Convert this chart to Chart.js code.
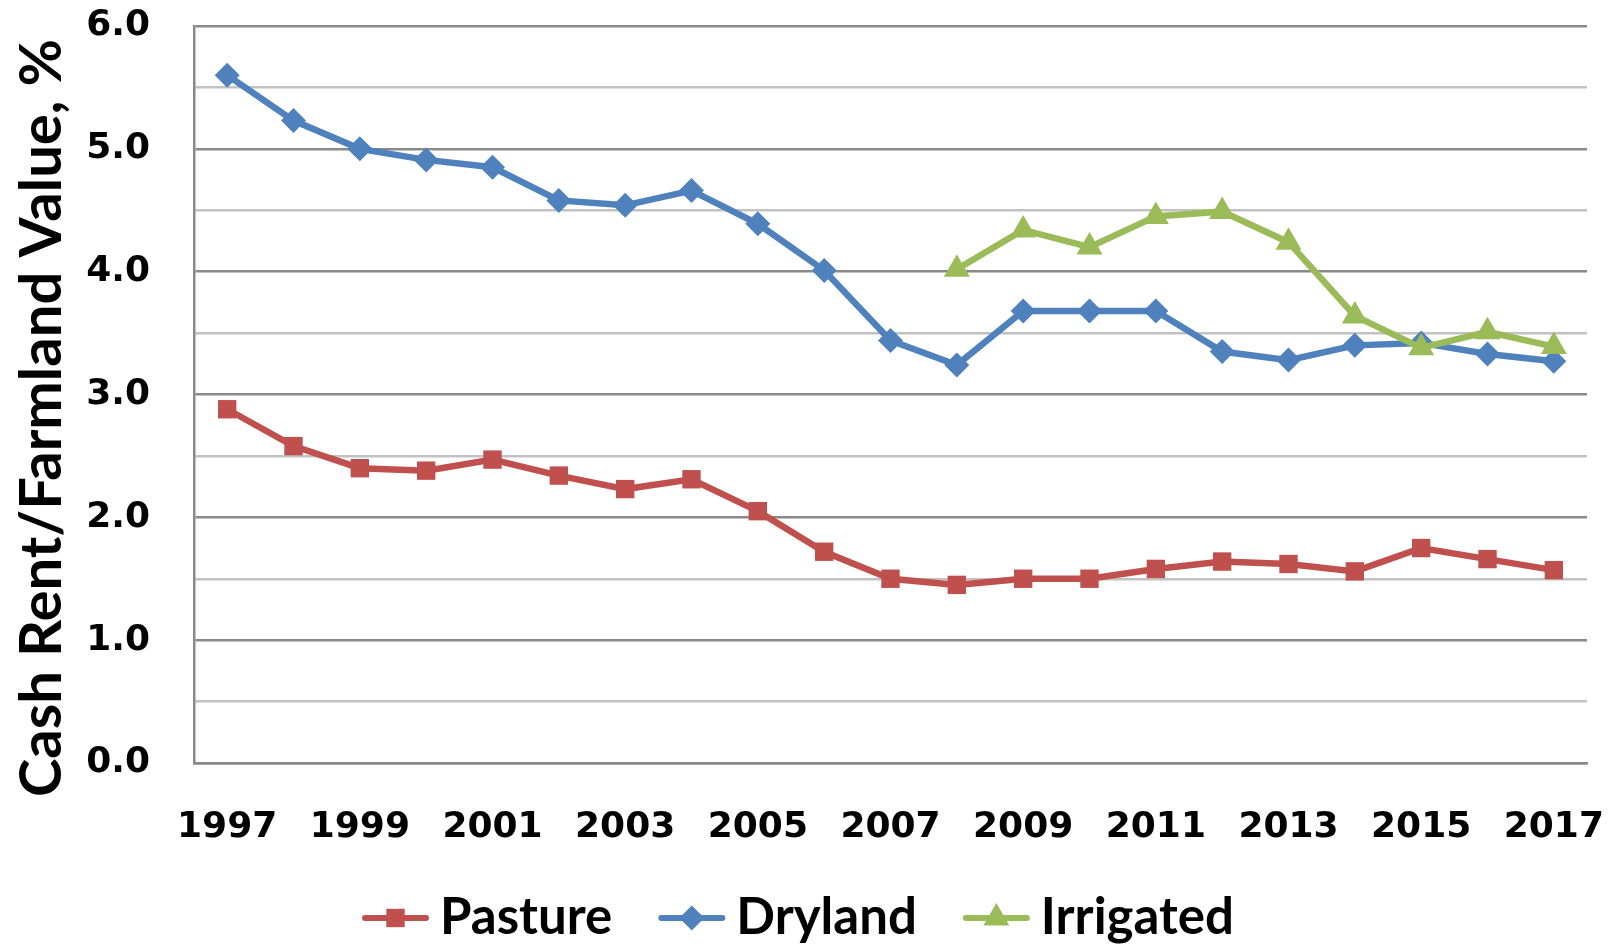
<!DOCTYPE html>
<html>
<head>
<meta charset="utf-8">
<title>Cash Rent / Farmland Value</title>
<script src="https://cdn.jsdelivr.net/npm/chart.js@4.4.1/dist/chart.umd.min.js"></script>
<style>
  html, body { margin: 0; padding: 0; background: #fff; }
  #wrap { width: 1619px; height: 945px; position: relative; }
</style>
</head>
<body>
<div id="wrap"><canvas id="chartRent"></canvas></div>
<script>
'use strict';
// ---------- dane ----------
const YEARS = ['1997', '1998', '1999', '2000', '2001', '2002', '2003', '2004', '2005', '2006', '2007',
               '2008', '2009', '2010', '2011', '2012', '2013', '2014', '2015', '2016', '2017'];
const PASTURE = [2.88, 2.58, 2.40, 2.38, 2.47, 2.34, 2.23, 2.31, 2.05, 1.72, 1.50,
                 1.45, 1.50, 1.50, 1.58, 1.64, 1.62, 1.56, 1.75, 1.66, 1.57];
const DRYLAND = [5.60, 5.23, 5.00, 4.91, 4.85, 4.58, 4.54, 4.66, 4.39, 4.01, 3.44,
                 3.24, 3.68, 3.68, 3.68, 3.35, 3.28, 3.40, 3.42, 3.33, 3.27];
const IRRIGATED = [null, null, null, null, null, null, null, null, null, null, null,
                   4.02, 4.34, 4.20, 4.45, 4.49, 4.24, 3.64, 3.38, 3.51, 3.39];
const SERIES_NAMES = ['Pasture', 'Dryland', 'Irrigated'];
const Y_TITLE = 'Cash Rent/Farmland Value, %';
const Y_MIN = 0, Y_MAX = 6, Y_STEP = 0.5;

// ---------- wygląd ----------
const COL = { pasture: '#C0504D', dryland: '#4F81BD', irrigated: '#9BBB59' };
const GRID_MAJOR = '#898989', GRID_MINOR = '#c2c2c2';
const TICK_FONT = { family: '"DejaVu Sans", Verdana, sans-serif', weight: 'bold', size: 36 };
const LABEL_FAMILY = 'Lato, "Open Sans", sans-serif';

const AREA_LEFT = 194, AREA_BOTTOM = 763, CANVAS_H = 945;

// tytuł osi Y (obrócony) — rysowany osobno, żeby wyśrodkować jak w oryginale
const yTitle = {
  id: 'yTitle',
  afterDraw(chart) {
    const ctx = chart.ctx;
    ctx.save();
    ctx.translate(42, 418);
    ctx.rotate(-Math.PI / 2);
    ctx.font = `bold 58px ${LABEL_FAMILY}`;
    ctx.fillStyle = '#000';
    ctx.textAlign = 'center';
    ctx.textBaseline = 'middle';
    ctx.fillText(Y_TITLE, 0, 0);
    ctx.restore();
  },
};

// legenda pod osią: linia + znacznik + podpis
const lineLegend = {
  id: 'lineLegend',
  afterDraw(chart) {
    const ctx = chart.ctx;
    const sets = chart.data.datasets.slice().sort((a, b) => a.legendIndex - b.legendIndex);
    const iconW = 67, iconGap = 11, itemGap = 46, cx = 798, yLine = 918, yText = 934;
    ctx.save();
    ctx.font = `bold 51px ${LABEL_FAMILY}`;
    const widths = sets.map(d => iconW + iconGap + ctx.measureText(d.label).width);
    const total = widths.reduce((a, b) => a + b, 0) + itemGap * (sets.length - 1);
    let x = cx - total / 2;
    sets.forEach((d, i) => {
      ctx.strokeStyle = d.borderColor;
      ctx.lineWidth = 6;
      ctx.lineCap = 'round';
      ctx.beginPath(); ctx.moveTo(x + 3, yLine); ctx.lineTo(x + iconW - 3, yLine); ctx.stroke();
      ctx.fillStyle = d.borderColor;
      Chart.helpers.drawPoint(ctx, { pointStyle: d.pointStyle, radius: d.pointRadius, borderWidth: 0, rotation: 0 },
        x + iconW / 2, yLine);
      ctx.fillStyle = '#000';
      ctx.textAlign = 'left';
      ctx.textBaseline = 'alphabetic';
      ctx.fillText(d.label, x + iconW + iconGap, yText);
      x += widths[i] + itemGap;
    });
    ctx.restore();
  },
};

function series(label, data, color, style, radius, order, legendIndex) {
  return {
    label, data, order, legendIndex,
    borderColor: color, backgroundColor: color,
    borderWidth: 6.5, tension: 0, spanGaps: false,
    pointStyle: style, pointRadius: radius, pointHoverRadius: radius,
    pointBackgroundColor: color, pointBorderColor: color, pointBorderWidth: 0,
  };
}

new Chart(document.getElementById('chartRent'), {
  type: 'line',
  data: {
    labels: YEARS,
    datasets: [
      series(SERIES_NAMES[0], PASTURE, COL.pasture, 'rect', 13, 2, 0),
      series(SERIES_NAMES[1], DRYLAND, COL.dryland, 'rectRot', 12.5, 1, 1),
      series(SERIES_NAMES[2], IRRIGATED, COL.irrigated, 'triangle', 15, 0, 2),
    ],
  },
  options: {
    responsive: true, maintainAspectRatio: false, animation: false, devicePixelRatio: 1,
    layout: { padding: { top: 26, right: 32, left: 0, bottom: 0 } },
    plugins: { legend: { display: false }, tooltip: { enabled: false } },
    scales: {
      x: {
        offset: true,
        grid: { display: true, drawOnChartArea: false, drawTicks: true, tickLength: 41, tickColor: 'rgba(0,0,0,0)' },
        border: { display: true, color: GRID_MAJOR, width: 2.5 },
        ticks: {
          autoSkip: false, maxRotation: 0, padding: 2, color: '#000', font: TICK_FONT,
          callback: (v, i) => (i % 2 === 0 ? YEARS[i] : ''),
        },
        afterFit: s => { s.height = CANVAS_H - AREA_BOTTOM; },
      },
      y: {
        min: Y_MIN, max: Y_MAX,
        grid: {
          drawTicks: true, tickLength: 40, tickColor: 'rgba(0,0,0,0)', lineWidth: 2.5,
          color: c => (c.tick && Number.isInteger(c.tick.value) ? GRID_MAJOR : GRID_MINOR),
        },
        border: { display: true, color: GRID_MAJOR, width: 2.5 },
        ticks: {
          stepSize: Y_STEP, padding: 4, color: '#000', font: TICK_FONT,
          callback: v => (Number.isInteger(v) ? v.toFixed(1) : ''),
        },
        afterFit: s => { s.width = AREA_LEFT; },
      },
    },
  },
  plugins: [yTitle, lineLegend],
});
</script>
</body>
</html>
